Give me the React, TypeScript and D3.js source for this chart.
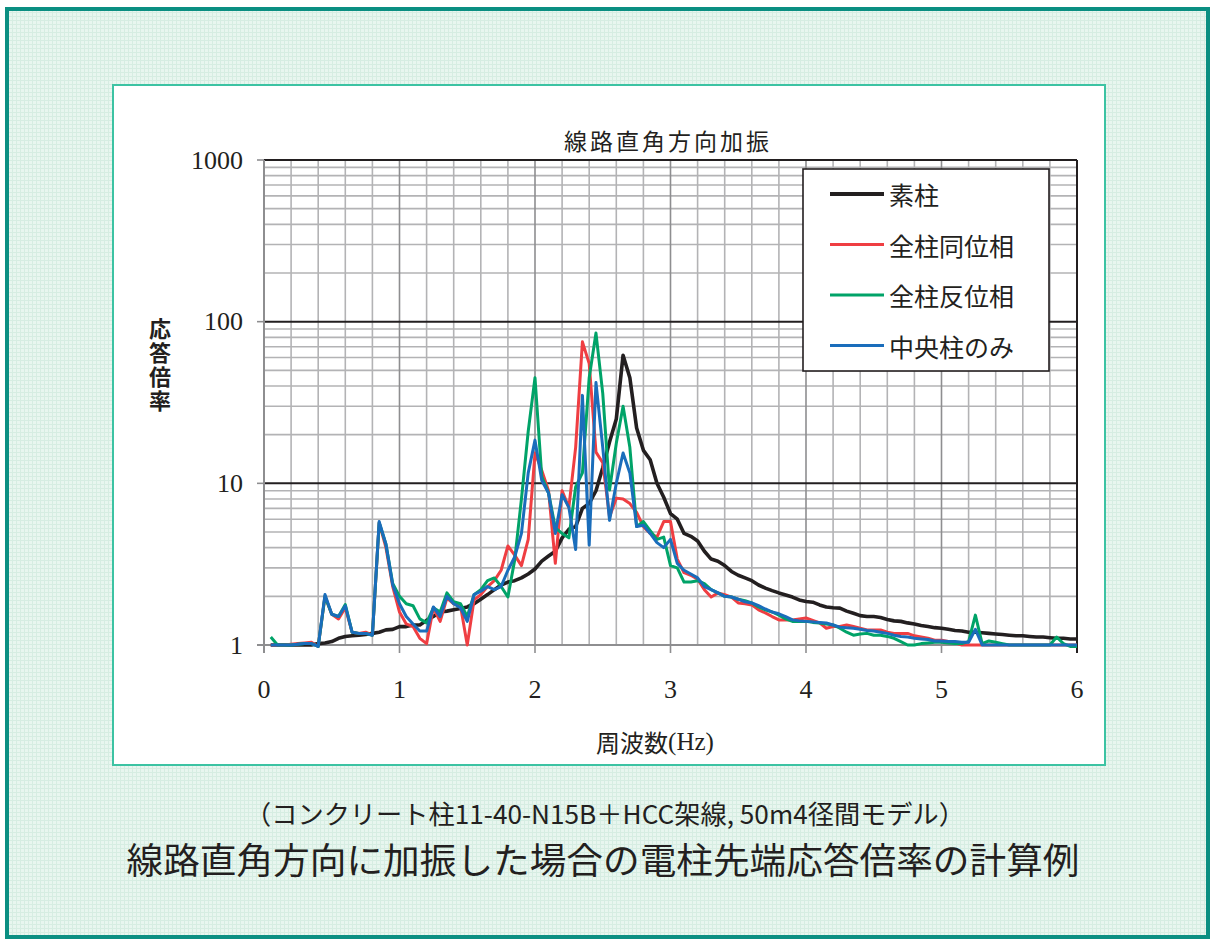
import React from 'react'
import * as d3 from 'd3'

// frequency (Hz), 0.05 step
const FREQ = [
  0.05, 0.1, 0.15, 0.2, 0.25, 0.3, 0.35, 0.4, 0.45, 0.5,
  0.55, 0.6, 0.65, 0.7, 0.75, 0.8, 0.85, 0.9, 0.95, 1.0,
  1.05, 1.1, 1.15, 1.2, 1.25, 1.3, 1.35, 1.4, 1.45, 1.5,
  1.55, 1.6, 1.65, 1.7, 1.75, 1.8, 1.85, 1.9, 1.95, 2.0,
  2.05, 2.1, 2.15, 2.2, 2.25, 2.3, 2.35, 2.4, 2.45, 2.5,
  2.55, 2.6, 2.65, 2.7, 2.75, 2.8, 2.85, 2.9, 2.95, 3.0,
  3.05, 3.1, 3.15, 3.2, 3.25, 3.3, 3.35, 3.4, 3.45, 3.5,
  3.55, 3.6, 3.65, 3.7, 3.75, 3.8, 3.85, 3.9, 3.95, 4.0,
  4.05, 4.1, 4.15, 4.2, 4.25, 4.3, 4.35, 4.4, 4.45, 4.5,
  4.55, 4.6, 4.65, 4.7, 4.75, 4.8, 4.85, 4.9, 4.95, 5.0,
  5.05, 5.1, 5.15, 5.2, 5.25, 5.3, 5.35, 5.4, 5.45, 5.5,
  5.55, 5.6, 5.65, 5.7, 5.75, 5.8, 5.85, 5.9, 5.95, 6.0,
]

// 素柱
const BARE = [
  1.0, 1.0, 1.0, 1.0, 1.0, 1.0, 1.0, 1.02, 1.03, 1.05,
  1.1, 1.13, 1.14, 1.15, 1.16, 1.18, 1.2, 1.24, 1.25, 1.3,
  1.3, 1.33, 1.33, 1.42, 1.5, 1.6, 1.62, 1.65, 1.68, 1.72,
  1.8, 1.92, 2.05, 2.2, 2.35, 2.45, 2.5, 2.6, 2.75, 2.95,
  3.3, 3.55, 3.8, 4.6, 5.2, 5.4, 7.0, 7.5, 9.0, 12.5,
  18, 25, 62, 45, 22, 16, 14, 10, 8.2, 6.5,
  6.0, 4.9, 4.7, 4.4, 3.8, 3.4, 3.3, 3.1, 2.85, 2.7,
  2.6, 2.5, 2.35, 2.25, 2.17, 2.1, 2.04, 1.98, 1.9, 1.86,
  1.84, 1.77, 1.72, 1.7, 1.69, 1.62, 1.57, 1.52, 1.5, 1.5,
  1.48, 1.44, 1.41, 1.4, 1.37, 1.35, 1.32, 1.3, 1.28, 1.27,
  1.25, 1.23, 1.22, 1.2, 1.2, 1.19, 1.18, 1.17, 1.16, 1.15,
  1.14, 1.14, 1.13, 1.12, 1.12, 1.11, 1.1, 1.1, 1.09, 1.09,
]

// 全柱同位相
const IN_PHASE = [
  1.0, 1.0, 1.0, 1.01, 1.02, 1.03, 1.04, 0.98, 2.0, 1.55,
  1.45, 1.7, 1.2, 1.18, 1.2, 1.15, 5.7, 4.0, 2.3, 1.6,
  1.35, 1.3, 1.1, 1.02, 1.7, 1.4, 1.95, 1.8, 1.75, 1.0,
  1.9, 2.05, 2.3, 2.5, 2.9, 4.1, 3.6, 3.1, 4.5, 15.4,
  12, 9, 3.2, 9, 7.1, 16.7, 75, 55, 15.6, 13.4,
  6.2, 8.1, 8.0, 7.5, 6.6, 5.4, 4.9, 4.65, 5.8, 5.8,
  3.4, 2.8, 2.7, 2.55, 2.2, 1.98, 2.1, 2.05, 1.98, 1.82,
  1.8, 1.77, 1.65, 1.58, 1.5, 1.43, 1.43, 1.43, 1.45, 1.47,
  1.42, 1.37, 1.27, 1.3, 1.3, 1.33, 1.3, 1.27, 1.24, 1.24,
  1.24, 1.2, 1.18, 1.18, 1.18, 1.14, 1.12, 1.1, 1.07, 1.07,
  1.05, 1.03, 1.0, 1.0, 1.0, 1.0, 1.0, 1.0, 1.0, 1.0,
  1.0, 1.0, 1.0, 1.0, 1.0, 1.0, 1.0, 1.0, 1.0, 1.0,
]

// 全柱反位相
const ANTI_PHASE = [
  1.12, 1.0, 1.0, 1.0, 1.01, 1.02, 1.02, 0.98, 2.0, 1.55,
  1.5, 1.78, 1.2, 1.18, 1.18, 1.15, 5.7, 4.2, 2.4, 2.0,
  1.8, 1.75, 1.45, 1.37, 1.7, 1.6, 2.1, 1.85, 1.8, 1.5,
  2.05, 2.2, 2.5, 2.6, 2.3, 1.98, 3.35, 8, 21, 45,
  11, 8.7, 5.3, 4.9, 4.6, 9.5, 11.6, 45, 85, 36,
  9.1, 17.7, 30, 16.7, 5.4, 5.8, 5.1, 4.5, 4.65, 3.1,
  3.0, 2.45, 2.45, 2.5, 2.4, 2.2, 2.1, 2.0, 1.98, 1.92,
  1.88, 1.82, 1.72, 1.65, 1.6, 1.53, 1.45, 1.4, 1.4, 1.4,
  1.38, 1.37, 1.35, 1.33, 1.27, 1.2, 1.15, 1.17, 1.18, 1.15,
  1.15, 1.13, 1.1, 1.05, 1.0, 1.0, 1.02, 1.03, 1.04, 1.04,
  1.03, 1.02, 1.02, 1.05, 1.53, 1.02, 1.06, 1.04, 1.02, 1.0,
  1.0, 1.0, 1.0, 1.0, 1.0, 1.0, 1.12, 1.02, 0.98, 0.98,
]

// 中央柱のみ
const CENTER_ONLY = [
  1.0, 1.0, 1.0, 1.0, 1.01, 1.02, 1.02, 0.98, 2.05, 1.55,
  1.5, 1.75, 1.2, 1.18, 1.18, 1.15, 5.8, 4.2, 2.35, 1.8,
  1.5, 1.35, 1.22, 1.22, 1.72, 1.5, 2.0, 1.8, 1.7, 1.4,
  2.05, 2.15, 2.3, 2.2, 2.3, 2.9, 3.5, 4.9, 11.6, 18.5,
  10.4, 8.7, 4.9, 8.5, 7.1, 3.9, 35, 4.15, 42, 16.7,
  5.9, 10, 15.4, 11.6, 5.4, 5.5, 4.9, 4.3, 4.0, 4.5,
  3.2, 2.9, 2.75, 2.6, 2.3, 2.2, 2.1, 2.0, 1.98, 1.92,
  1.85, 1.82, 1.75, 1.67, 1.6, 1.56, 1.5, 1.43, 1.41, 1.4,
  1.39, 1.38, 1.37, 1.33, 1.29, 1.28, 1.27, 1.25, 1.23, 1.22,
  1.2, 1.18, 1.15, 1.13, 1.12, 1.1, 1.09, 1.08, 1.06, 1.06,
  1.05, 1.05, 1.04, 1.04, 1.25, 1.0, 1.0, 1.0, 1.0, 1.0,
  1.0, 1.0, 1.0, 1.0, 1.0, 1.0, 1.0, 1.0, 1.0, 1.0,
]

const SERIES_NAMES = ['素柱', '全柱同位相', '全柱反位相', '中央柱のみ']
const SERIES_COLORS = ['#231f20', '#ef3e42', '#00a368', '#1a6dbb']
const SERIES_VALUES = [BARE, IN_PHASE, ANTI_PHASE, CENTER_ONLY]

const X_TICKS = [0, 1, 2, 3, 4, 5, 6]
const Y_TICKS = [1, 10, 100, 1000]

const CHART_TITLE = '線路直角方向加振'
const X_TITLE = '周波数'
const Y_TITLE = '応答倍率'
const CAPTION = '（コンクリート柱11-40-N15B＋HCC架線, 50m4径間モデル）'
const HEADLINE = '線路直角方向に加振した場合の電柱先端応答倍率の計算例'

const W = 1214
const H = 943
const CJK = '"Noto Sans CJK JP", "Noto Sans", sans-serif'
const SERIF = '"Liberation Serif", "DejaVu Serif", serif'

export default function App() {
  const x = d3.scaleLinear().domain([0, 6]).range([264, 1077])
  const y = d3.scaleLog().domain([1, 1000]).range([645, 160])

  const line = d3
    .line<number>()
    .x((_, i) => x(FREQ[i]))
    .y((d) => y(d))

  const minorX = x.ticks(30).filter((t) => Math.abs(t - Math.round(t)) > 1e-6)
  const minorY = y.ticks().filter((t) => !Y_TICKS.includes(t))

  const legendX = 803
  const legendY = 169
  const legendRow = 50.5

  return (
    <div style={{ position: 'absolute', left: 0, top: 0 }}>
      <svg width={W} height={H} style={{ display: 'block' }}>
        <defs>
          <pattern id="mesh" width="4" height="4" patternUnits="userSpaceOnUse">
            <rect width="4" height="4" fill="#e8f6ef" />
            <rect width="4" height="1" fill="#d6ede2" />
            <rect width="1" height="4" fill="#d6ede2" />
          </pattern>
        </defs>

        {/* page background + frame */}
        <rect x={0} y={0} width={W} height={H} fill="#ffffff" />
        <rect x={7} y={9} width={1201} height={928} fill="url(#mesh)" stroke="#0b8f82" strokeWidth={4} />

        {/* chart box */}
        <rect x={113} y={85} width={992} height={680} fill="#ffffff" stroke="#3cc3a3" strokeWidth={2} />

        <text x={668} y={140} textAnchor="middle" dominantBaseline="central" fontFamily={CJK} fontSize={23} letterSpacing={3} fill="#231f20">
          {CHART_TITLE}
        </text>

        {/* grid */}
        <g>
          {minorX.map((t) => (
            <line key={'vx' + t} x1={x(t)} x2={x(t)} y1={160} y2={645} stroke="#b3b3b5" strokeWidth={1.6} />
          ))}
          {minorY.map((t) => (
            <line key={'hy' + t} x1={264} x2={1077} y1={y(t)} y2={y(t)} stroke="#b3b3b5" strokeWidth={1.6} />
          ))}
          {X_TICKS.slice(1, -1).map((t) => (
            <line key={'mx' + t} x1={x(t)} x2={x(t)} y1={160} y2={653} stroke="#8e8e90" strokeWidth={1.6} />
          ))}
          {Y_TICKS.slice(1).map((t) => (
            <line key={'my' + t} x1={264} x2={1077} y1={y(t)} y2={y(t)} stroke="#231f20" strokeWidth={2} />
          ))}
          {Y_TICKS.slice(1).map((t) => (
            <line key={'ty' + t} x1={257} x2={264} y1={y(t)} y2={y(t)} stroke="#8e8e90" strokeWidth={1.6} />
          ))}
          <line x1={257} x2={1077} y1={y(1)} y2={y(1)} stroke="#8e8e90" strokeWidth={2} />
          <line x1={x(0)} x2={x(0)} y1={160} y2={653} stroke="#8e8e90" strokeWidth={2} />
          <line x1={x(6)} x2={x(6)} y1={160} y2={653} stroke="#231f20" strokeWidth={2} />
        </g>

        {/* axis labels */}
        {Y_TICKS.map((t) => (
          <text key={'yl' + t} x={243} y={y(t)} textAnchor="end" dominantBaseline="central" fontFamily={SERIF} fontSize={26} fill="#231f20">
            {t}
          </text>
        ))}
        {X_TICKS.map((t) => (
          <text key={'xl' + t} x={x(t)} y={689} textAnchor="middle" dominantBaseline="central" fontFamily={SERIF} fontSize={26} fill="#231f20">
            {t}
          </text>
        ))}
        <text x={655} y={741} textAnchor="middle" dominantBaseline="central" fontFamily={CJK} fontSize={24} fill="#231f20">
          {X_TITLE}
          <tspan fontFamily={SERIF} fontSize={25}>(Hz)</tspan>
        </text>
        <text
          x={160}
          y={318}
          fontFamily={CJK}
          fontSize={22}
          fontWeight={700}
          fill="#231f20"
          letterSpacing={2}
          style={{ writingMode: 'vertical-rl', textOrientation: 'upright' }}
        >
          {Y_TITLE}
        </text>

        {/* series */}
        {SERIES_VALUES.map((vals, i) => (
          <path
            key={SERIES_NAMES[i]}
            d={line(vals) || ''}
            fill="none"
            stroke={SERIES_COLORS[i]}
            strokeWidth={i === 0 ? 3.6 : 3}
            strokeLinejoin="round"
          />
        ))}

        {/* legend */}
        <rect x={legendX} y={legendY} width={246} height={202} fill="#ffffff" stroke="#231f20" strokeWidth={1.6} />
        {SERIES_NAMES.map((name, i) => (
          <g key={'lg' + name} transform={`translate(0, ${legendY + 25 + i * legendRow})`}>
            <line x1={830} x2={884} y1={0} y2={0} stroke={SERIES_COLORS[i]} strokeWidth={i === 0 ? 4 : 3} />
            <text x={889} y={0} dominantBaseline="central" fontFamily={CJK} fontSize={25} fill="#231f20">
              {name}
            </text>
          </g>
        ))}

        {/* captions */}
        <text x={605} y={812} textAnchor="middle" dominantBaseline="central" fontFamily={CJK} fontSize={26} textLength={720} lengthAdjust="spacingAndGlyphs" fill="#231f20">
          {CAPTION}
        </text>
        <text x={603} y={858} textAnchor="middle" dominantBaseline="central" fontFamily={CJK} fontSize={36} textLength={953} lengthAdjust="spacingAndGlyphs" fill="#231f20">
          {HEADLINE}
        </text>
      </svg>
    </div>
  )
}
